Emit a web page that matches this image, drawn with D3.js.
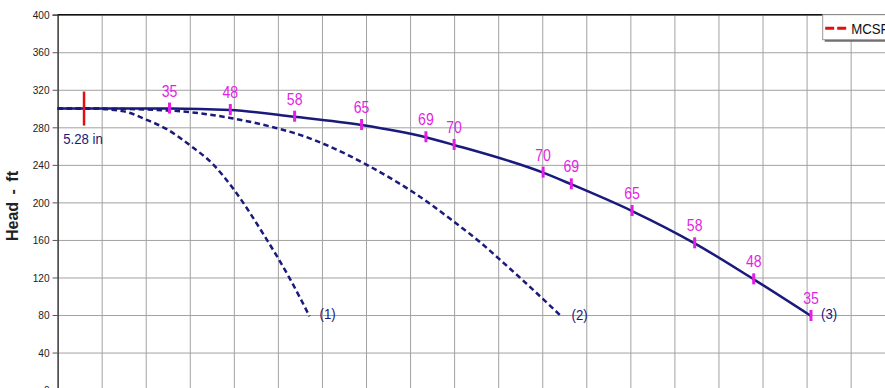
<!DOCTYPE html>
<html>
<head>
<meta charset="utf-8">
<script src="https://cdn.jsdelivr.net/npm/d3@7"></script>
<style>
  body { margin: 0; background: #fff; overflow: hidden; }
  svg { display: block; font-family: Arial, "Liberation Sans", sans-serif; }
</style>
</head>
<body>
<svg id="chart" width="885" height="388"></svg>
<script>
// head ticks (ft) and flow gridlines (x axis itself is outside the crop)
const headTicks = [0, 40, 80, 120, 160, 200, 240, 280, 320, 360, 400];
const flowTicks = [0, 50, 100, 150, 200, 250, 300, 350, 400, 450, 500, 550, 600, 650, 700, 750, 800, 850, 900, 950];

// curve (1), dashed
const curve1Flow = [0, 37, 75, 101, 124, 150, 177, 199, 233, 264, 286];
const curve1Head = [300, 300, 297, 288, 278, 261, 240, 215, 167, 118, 78.5];

// curve (2), dashed
const curve2Flow = [0, 37, 124, 196, 249, 275, 309, 351, 419, 449, 479, 502, 528, 572];
const curve2Head = [300, 300, 298, 290, 279, 272, 259.5, 240, 201, 180, 158, 139, 117, 78.3];

// curve (3), solid
const curve3Flow = [0, 127, 196, 269, 345, 418, 450, 551, 583, 652, 723, 790, 855];
const curve3Head = [300, 300, 298.4, 291.3, 282.5, 269.4, 261.2, 231.7, 219.3, 190.8, 156.4, 118, 79];

// efficiency marks on curve (3)
const effFlow = [127, 196, 269, 345, 418, 450, 551, 583, 652, 723, 790, 855];
const effHead = [300, 298.4, 291.3, 282.5, 269.4, 261.2, 231.7, 219.3, 190.8, 156.4, 118, 79];
const effLabels = ["35", "48", "58", "65", "69", "70", "70", "69", "65", "58", "48", "35"];

const curveLabels = ["(1)", "(2)", "(3)"];
const impellerFlow = 30;
const impellerHead = 300;
const impellerLabel = "5.28 in";
const legendLabels = ["MCSF"];

const NAVY = "#1a1a7c";
const MAGENTA = "#e41ee4";
const SQUEEZE = 0.88;

const svg = d3.select("#chart");
const x = d3.scaleLinear().domain([0, 950]).range([57.6, 894.7]);
const y = d3.scaleLinear().domain([0, 400]).range([390.1, 14.7]);
const plotH = y(0) - y(400);
const plotW = x(950) - x(0);

// Draw grid
svg
  .append("g")
  .attr("class", "x axis-grid")
  .attr("transform", "translate(0," + y(0) + ")")
  .call(d3.axisBottom(x).tickValues(flowTicks).tickSize(-plotH).tickFormat(""))
  .call((g) => g.select(".domain").remove())
  .call((g) => g.selectAll("line").attr("stroke", "#a2a2a2"));

svg
  .append("g")
  .attr("class", "y axis-grid")
  .attr("transform", "translate(" + x(0) + ",0)")
  .call(d3.axisLeft(y).tickValues(headTicks).tickSize(-plotW).tickFormat(""))
  .call((g) => g.select(".domain").remove())
  .call((g) => g.selectAll("line").attr("stroke", "#a2a2a2"));

// top border
svg
  .append("line")
  .attr("x1", x(0))
  .attr("x2", x(950))
  .attr("y1", y(400))
  .attr("y2", y(400))
  .attr("stroke", "#111")
  .attr("stroke-width", 1.5);

// Y axis
const yAxis = svg
  .append("g")
  .attr("transform", "translate(" + x(0) + ",0)")
  .call(d3.axisLeft(y).tickValues(headTicks).tickSize(5).tickPadding(3));
yAxis.select(".domain").attr("stroke", "#222").attr("stroke-width", 1.2);
yAxis.selectAll(".tick line").attr("stroke", "#555");
yAxis
  .selectAll(".tick text")
  .attr("font-size", 11.5)
  .attr("fill", "#222")
  .attr("x", -8 / SQUEEZE)
  .attr("transform", `scale(${SQUEEZE},1)`);

svg
  .append("text")
  .attr("transform", "translate(18,206) rotate(-90)")
  .attr("text-anchor", "middle")
  .attr("font-size", 16)
  .attr("font-weight", "bold")
  .attr("fill", "#222")
  .attr("word-spacing", 3)
  .text("Head - ft");

// Draw curves
const zip = (qs, hs) => qs.map((q, i) => ({ q, h: hs[i] }));
const line = d3
  .line()
  .x((d) => x(d.q))
  .y((d) => y(d.h))
  .curve(d3.curveMonotoneX);

const curves = [
  { data: zip(curve1Flow, curve1Head), dash: "5.5,3.5" },
  { data: zip(curve2Flow, curve2Head), dash: "5.5,3.5" },
  { data: zip(curve3Flow, curve3Head), dash: null },
];

curves.forEach((c, i) => {
  svg
    .append("path")
    .datum(c.data)
    .attr("d", line)
    .attr("fill", "none")
    .attr("stroke", NAVY)
    .attr("stroke-width", 2.5)
    .attr("stroke-dasharray", c.dash);
  const last = c.data[c.data.length - 1];
  svg
    .append("text")
    .attr("transform", `translate(${x(last.q) + 10},${y(last.h) + 3}) scale(${SQUEEZE},1)`)
    .attr("font-size", 15)
    .attr("fill", NAVY)
    .text(curveLabels[i]);
});

// efficiency marks
const eff = effFlow.map((q, i) => ({ q, h: effHead[i], label: effLabels[i] }));
svg
  .append("g")
  .selectAll("line")
  .data(eff)
  .join("line")
  .attr("x1", (d) => x(d.q))
  .attr("x2", (d) => x(d.q))
  .attr("y1", (d) => y(d.h) - 6)
  .attr("y2", (d) => y(d.h) + 5)
  .attr("stroke", MAGENTA)
  .attr("stroke-width", 3);
svg
  .append("g")
  .selectAll("text")
  .data(eff)
  .join("text")
  .attr("transform", (d) => `translate(${x(d.q)},${y(d.h) - 12}) scale(${SQUEEZE},1)`)
  .attr("text-anchor", "middle")
  .attr("font-size", 16)
  .attr("fill", MAGENTA)
  .text((d) => d.label);

// impeller diameter marker
svg
  .append("line")
  .attr("x1", x(impellerFlow))
  .attr("x2", x(impellerFlow))
  .attr("y1", y(impellerHead) - 17)
  .attr("y2", y(impellerHead) + 17)
  .attr("stroke", "#e01010")
  .attr("stroke-width", 2.5);
svg
  .append("text")
  .attr("transform", `translate(${x(impellerFlow) - 1},${y(impellerHead) + 35}) scale(${SQUEEZE},1)`)
  .attr("text-anchor", "middle")
  .attr("font-size", 15)
  .attr("fill", NAVY)
  .text(impellerLabel);

// legend
const lg = svg.append("g").attr("transform", "translate(822.7," + y(400) + ")");
lg.append("rect").attr("x", 2).attr("y", 2).attr("width", 90).attr("height", 25).attr("fill", "#666");
lg.append("rect").attr("width", 90).attr("height", 25).attr("fill", "#fff").attr("stroke", "#999");
lg.append("line")
  .attr("x1", 2.5)
  .attr("x2", 26)
  .attr("y1", 13.5)
  .attr("y2", 13.5)
  .attr("stroke", "#e01010")
  .attr("stroke-width", 3)
  .attr("stroke-dasharray", "9,3");
lg.append("text")
  .attr("transform", `translate(28.5,19.5) scale(${SQUEEZE},1)`)
  .attr("font-size", 15)
  .attr("fill", "#111")
  .text(legendLabels[0]);
</script>
</body>
</html>
